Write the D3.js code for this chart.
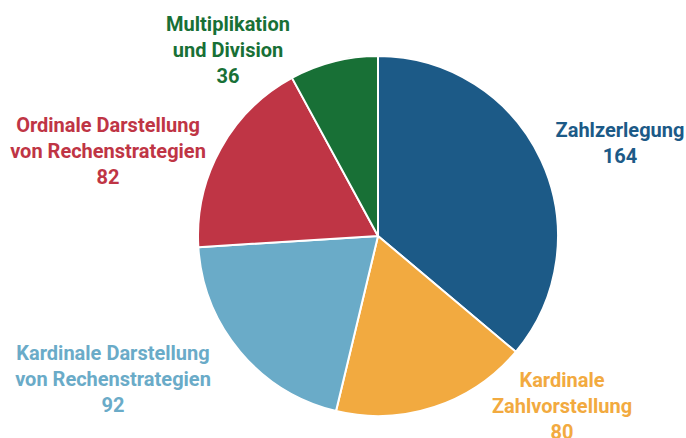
<!DOCTYPE html>
<html>
<head>
<meta charset="utf-8">
<script src="https://cdn.jsdelivr.net/npm/d3@7"></script>
<style>
  body { margin: 0; background: #fff; }
  text { font-family: Roboto, "Noto Sans", sans-serif; font-weight: bold; }
</style>
</head>
<body>
<script>
var width = 686;
var height = 438;

// data, clockwise from 12 o'clock
var categories = [
    "Zahlzerlegung",
    "Kardinale Zahlvorstellung",
    "Kardinale Darstellung von Rechenstrategien",
    "Ordinale Darstellung von Rechenstrategien",
    "Multiplikation und Division"
];
var values = [164, 80, 92, 82, 36];
var labelLines = [
    ["Zahlzerlegung"],
    ["Kardinale", "Zahlvorstellung"],
    ["Kardinale Darstellung", "von Rechenstrategien"],
    ["Ordinale Darstellung", "von Rechenstrategien"],
    ["Multiplikation", "und Division"]
];
var colors = ["#1c5a87", "#f2aa40", "#6aabc8", "#bf3545", "#187036"];

var cx = 378, cy = 236, radius = 180;

// where each label block sits (center x, baseline of first line)
var labelPos = [
    [620, 137],
    [562, 387],
    [113, 360],
    [108, 132],
    [228, 31]
];
var lineGap = 26;

var svg = d3.select("body").append("svg")
    .attr("width", width)
    .attr("height", height);

var data = categories.map((c, i) => ({ name: c, value: values[i], lines: labelLines[i], idx: i }));

var pie = d3.pie()
    .sort(null)
    .value(d => d.value);

var arc = d3.arc()
    .innerRadius(0)
    .outerRadius(radius);

var color = d3.scaleOrdinal()
    .domain(categories)
    .range(colors);

var g = svg.append("g")
    .attr("transform", "translate(" + cx + "," + cy + ")");

g.selectAll("path")
    .data(pie(data))
    .enter()
    .append("path")
    .attr("d", arc)
    .attr("fill", d => color(d.data.name))
    .attr("stroke", "#fff")
    .attr("stroke-width", 2)
    .attr("stroke-linejoin", "round");

var labels = svg.selectAll("text.lbl")
    .data(data)
    .enter()
    .append("text")
    .attr("class", "lbl")
    .attr("text-anchor", "middle")
    .attr("font-size", "20px")
    .attr("fill", d => color(d.name));

labels.each(function(d) {
    var t = d3.select(this);
    var p = labelPos[d.idx];
    d.lines.concat([String(d.value)]).forEach((line, j) => {
        t.append("tspan")
            .attr("x", p[0])
            .attr("y", p[1] + j * lineGap)
            .text(line);
    });
});
</script>
</body>
</html>
